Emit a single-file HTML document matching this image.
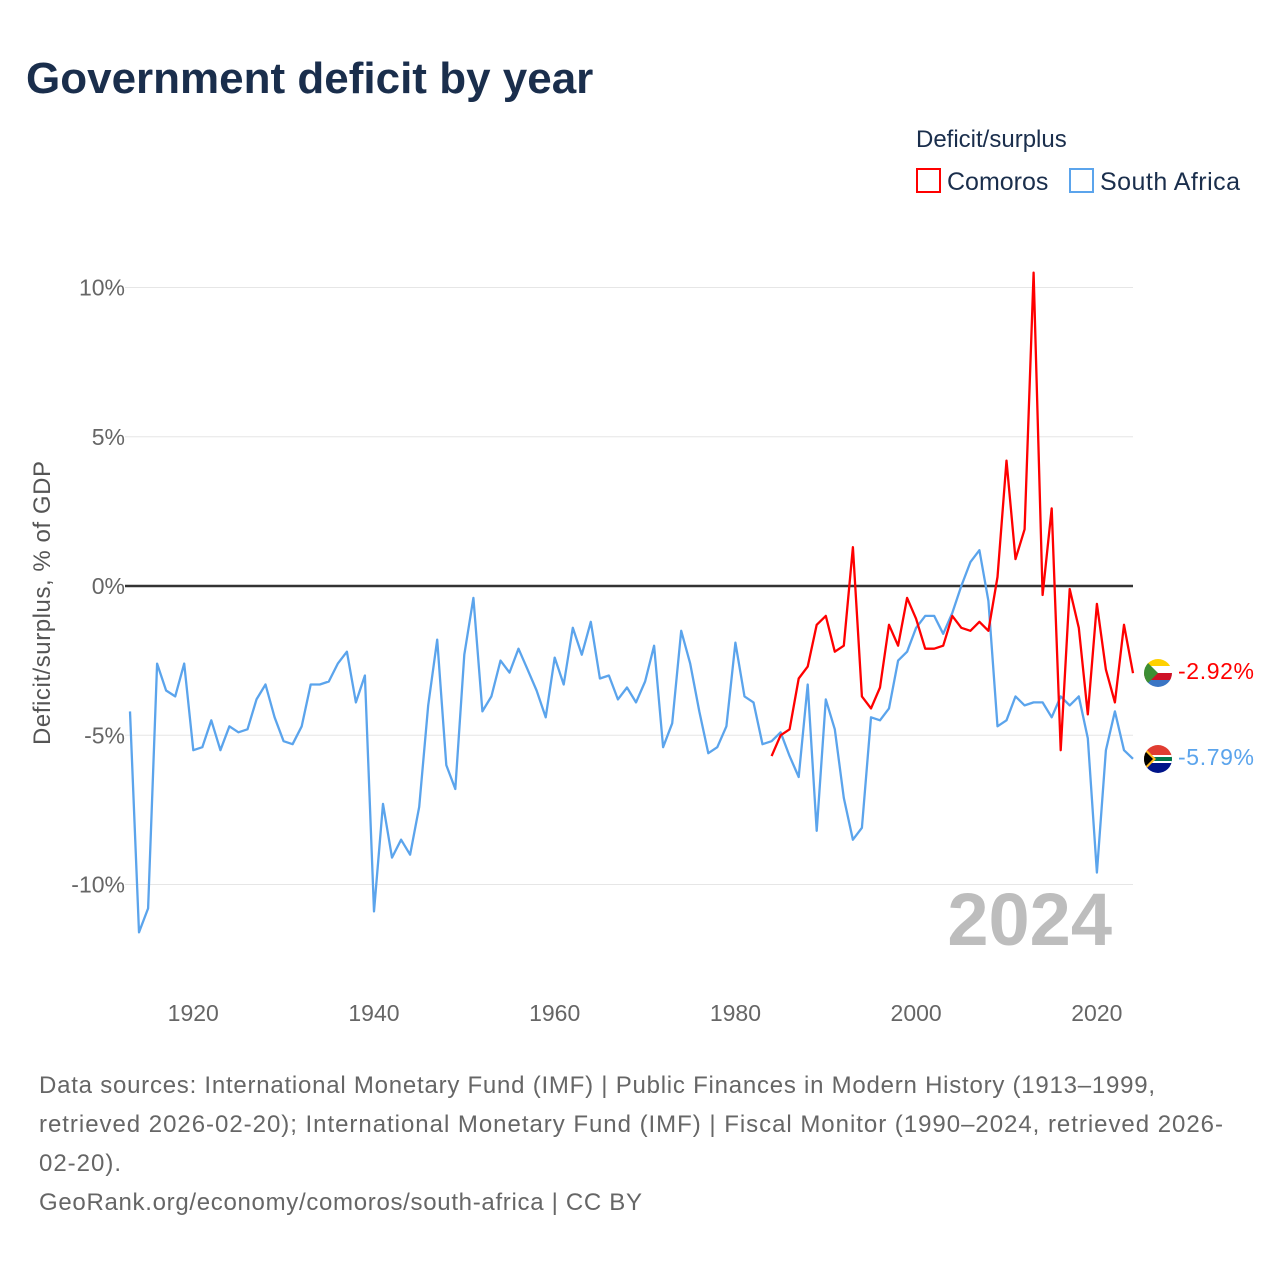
<!DOCTYPE html>
<html><head><meta charset="utf-8"><style>
body{margin:0;background:#fff;font-family:"Liberation Sans",sans-serif;}
svg text{font-family:"Liberation Sans",sans-serif;}
</style></head><body>
<svg id="chart" width="1280" height="1280" viewBox="0 0 1280 1280" xmlns="http://www.w3.org/2000/svg">
<text x="26" y="93" font-size="44" font-weight="bold" fill="#1a2e4c">Government deficit by year</text>
<text x="916" y="147" font-size="24" fill="#1a2e4c">Deficit/surplus</text>
<g><rect x="917" y="169" width="23" height="23" fill="none" stroke="#ff0000" stroke-width="2"/><text x="947" y="190" font-size="25" fill="#1a2e4c">Comoros</text></g>
<g><rect x="1070" y="169" width="23" height="23" fill="none" stroke="#5ba4ec" stroke-width="2"/><text x="1100" y="190" font-size="25" fill="#1a2e4c" textLength="140">South Africa</text></g>
<text transform="translate(50,603) rotate(-90)" text-anchor="middle" font-size="24" fill="#555" textLength="284">Deficit/surplus, % of GDP</text>
<g id="grid"></g><g id="xt"></g>
<text x="1112" y="945" text-anchor="end" font-size="74" font-weight="bold" fill="#bdbdbd">2024</text>
<g id="series"></g>
<g><clipPath id="c1"><circle cx="1158" cy="673" r="14"/></clipPath><g clip-path="url(#c1)"><rect x="1144" y="659" width="28" height="7" fill="#ffd100"/><rect x="1144" y="666" width="28" height="7" fill="#fff"/><rect x="1144" y="673" width="28" height="7" fill="#ce1126"/><rect x="1144" y="680" width="28" height="7" fill="#3a75c4"/><polygon points="1144,659 1158,673 1144,687" fill="#3d8e33"/></g></g>
<g><clipPath id="c2"><circle cx="1158" cy="759" r="14"/></clipPath><g clip-path="url(#c2)"><rect x="1144" y="745" width="28" height="14" fill="#e03c31"/><rect x="1144" y="759" width="28" height="14" fill="#001489"/><rect x="1144" y="755" width="28" height="8" fill="#fff"/><rect x="1144" y="757" width="28" height="4" fill="#007749"/><polygon points="1144,747 1156,759 1144,771" fill="#ffb81c"/><polygon points="1144,750 1153,759 1144,768" fill="#000"/></g></g>
<text x="1178" y="679" font-size="23" fill="#ff0000" textLength="76">-2.92%</text>
<text x="1178" y="765" font-size="23" fill="#5ba4ec" textLength="76">-5.79%</text>
<g font-size="24" fill="#666">
<text x="39" y="1093" textLength="1116">Data sources: International Monetary Fund (IMF) | Public Finances in Modern History (1913–1999,</text>
<text x="39" y="1132" textLength="1184">retrieved 2026-02-20); International Monetary Fund (IMF) | Fiscal Monitor (1990–2024, retrieved 2026-</text>
<text x="39" y="1171" textLength="82">02-20).</text>
<text x="39" y="1210" textLength="603">GeoRank.org/economy/comoros/south-africa | CC BY</text>
</g>
</svg>
<script>
const yTicks=[10,5,0,-5,-10];
const yTickLabels=["10%","5%","0%","-5%","-10%"];
const xTicks=[1920,1940,1960,1980,2000,2020];
const saStart=1913;
const saValues=[-4.2,-11.6,-10.8,-2.6,-3.5,-3.7,-2.6,-5.5,-5.4,-4.5,-5.5,-4.7,-4.9,-4.8,-3.8,-3.3,-4.4,-5.2,-5.3,-4.7,-3.3,-3.3,-3.2,-2.6,-2.2,-3.9,-3.0,-10.9,-7.3,-9.1,-8.5,-9.0,-7.4,-4.0,-1.8,-6.0,-6.8,-2.3,-0.4,-4.2,-3.7,-2.5,-2.9,-2.1,-2.8,-3.5,-4.4,-2.4,-3.3,-1.4,-2.3,-1.2,-3.1,-3.0,-3.8,-3.4,-3.9,-3.2,-2.0,-5.4,-4.6,-1.5,-2.6,-4.2,-5.6,-5.4,-4.7,-1.9,-3.7,-3.9,-5.3,-5.2,-4.9,-5.7,-6.4,-3.3,-8.2,-3.8,-4.8,-7.1,-8.5,-8.1,-4.4,-4.5,-4.1,-2.5,-2.2,-1.4,-1.0,-1.0,-1.6,-0.9,0.0,0.8,1.2,-0.5,-4.7,-4.5,-3.7,-4.0,-3.9,-3.9,-4.4,-3.7,-4.0,-3.7,-5.1,-9.6,-5.5,-4.2,-5.5,-5.79];
const kmStart=1984;
const kmValues=[-5.7,-5.0,-4.8,-3.1,-2.7,-1.3,-1.0,-2.2,-2.0,1.3,-3.7,-4.1,-3.4,-1.3,-2.0,-0.4,-1.1,-2.1,-2.1,-2.0,-1.0,-1.4,-1.5,-1.2,-1.5,0.3,4.2,0.9,1.9,10.5,-0.3,2.6,-5.5,-0.1,-1.4,-4.3,-0.6,-2.8,-3.9,-1.3,-2.92];
const NS="http://www.w3.org/2000/svg";
const xs=yr=>130+(yr-1913)*(1133-130)/(2024-1913);
const ys=v=>586-v*29.85;
const grid=document.getElementById('grid');
yTicks.forEach((t,i)=>{
  const l=document.createElementNS(NS,'line');
  l.setAttribute('x1',125);l.setAttribute('x2',1133);
  l.setAttribute('y1',ys(t));l.setAttribute('y2',ys(t));
  l.setAttribute('stroke',t===0?'#333':'#e6e6e6');l.setAttribute('stroke-width',t===0?2.5:1);
  
  
  grid.appendChild(l);
  const tx=document.createElementNS(NS,'text');
  tx.setAttribute('x',125);tx.setAttribute('y',ys(t)+8);tx.setAttribute('text-anchor','end');
  tx.setAttribute('font-size',23);tx.setAttribute('fill','#666');tx.textContent=yTickLabels[i];
  
  
  grid.appendChild(tx);
});
const xt=document.getElementById('xt');
xTicks.forEach(t=>{
  const tx=document.createElementNS(NS,'text');
  tx.setAttribute('x',xs(t));tx.setAttribute('y',1021);tx.setAttribute('text-anchor','middle');
  tx.setAttribute('font-size',23);tx.setAttribute('fill','#666');tx.textContent=t;
  
  
  xt.appendChild(tx);
});
const ser=document.getElementById('series');
function line(start,vals,color,name){
  const p=document.createElementNS(NS,'polyline');
  p.setAttribute('points',vals.map((v,i)=>xs(start+i).toFixed(1)+','+ys(v).toFixed(1)).join(' '));
  p.setAttribute('fill','none');p.setAttribute('stroke',color);p.setAttribute('stroke-width',2.3);
  p.setAttribute('stroke-linejoin','round');
  
  
  ser.appendChild(p);
}
line(saStart,saValues,'#5ba4ec','south-africa-line');
line(kmStart,kmValues,'#ff0000','comoros-line');
</script>
</body></html>
